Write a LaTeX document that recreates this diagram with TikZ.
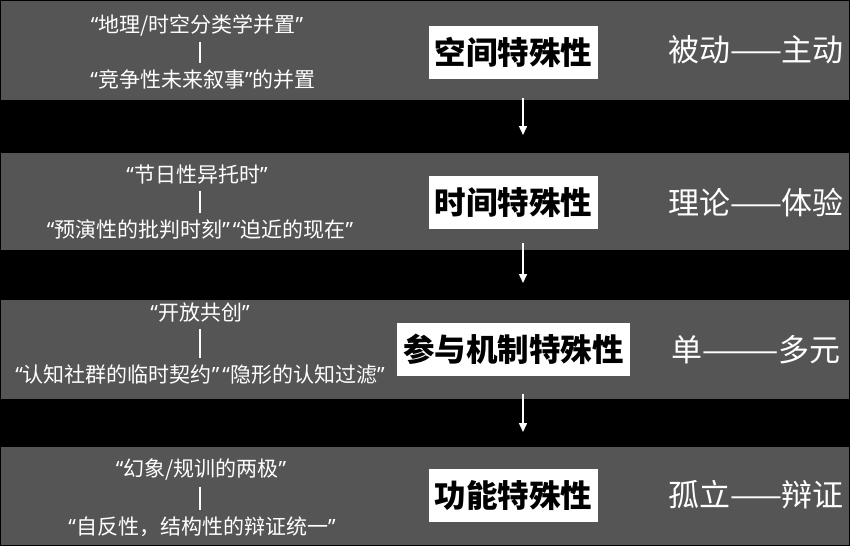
\documentclass[tikz,border=0pt]{standalone}
\usepackage{fontspec}
\newfontfamily\cjk{Noto Sans CJK SC}
\newfontfamily\latq{Noto Sans}
\newcommand\oq{{\latq “}}
\newcommand\cq{{\latq ”}}
\usetikzlibrary{arrows.meta}
\definecolor{band}{HTML}{555555}
\tikzset{
  bandrect/.style={fill=band, draw=none},
  leftline/.style={text=white, inner sep=0pt, font=\cjk\fontsize{21}{25}\selectfont},
  rightlbl/.style={text=white, inner sep=0pt, font=\cjk\fontsize{31}{36}\selectfont},
  titlebox/.style={fill=white, text=black, inner sep=0pt, minimum width=169pt, minimum height=53pt, font=\cjk\bfseries\fontsize{31.5}{37}\selectfont},
  barline/.style={draw=white, line width=1.5pt, shorten <=6pt, shorten >=7pt},
  arr/.style={draw=white, line width=1.5pt, -{Triangle[width=8pt,length=9pt]}}
}
\begin{document}
\begin{tikzpicture}[x=1pt, y=-1pt]
\useasboundingbox (0,0) rectangle (850,546);
\fill[black] (0,0) rectangle (850,546);
% bands
\path[bandrect] (1,1) rectangle (849,100);
\path[bandrect] (1,153) rectangle (849,250);
\path[bandrect] (1,300) rectangle (849,399);
\path[bandrect] (1,447) rectangle (849,545);
% band 1
\node[leftline] (l1a) at (197,25) {\oq 地理/时空分类学并置\cq};
\node[leftline] (l1b) at (203,80) {\oq 竞争性未来叙事\cq 的并置};
\draw[barline] (l1a.south -| 200,0) -- (l1b.north -| 200,0);
\node[titlebox] (b1) at (513.5,52.5) {空间特殊性};
\node[rightlbl] (r1) at (756,50) {被动——主动};
% band 2
\node[leftline] (l2a) at (197,175) {\oq 节日性异托时\cq};
\node[leftline] (l2b) at (200,230) {\oq 预演性的批判时刻\cq\hspace{3pt}\oq 迫近的现在\cq};
\draw[barline] (l2a.south -| 200,0) -- (l2b.north -| 200,0);
\node[titlebox] (b2) at (513.5,202.5) {时间特殊性};
\node[rightlbl] (r2) at (756,203) {理论——体验};
% band 3
\node[leftline] (l3a) at (200,313) {\oq 开放共创\cq};
\node[leftline] (l3b) at (200,375) {\oq 认知社群的临时契约\cq\hspace{3pt}\oq 隐形的认知过滤\cq};
\draw[barline] (l3a.south -| 200,0) -- (l3b.north -| 200,0);
\node[titlebox, minimum width=233pt] (b3) at (513.5,349.5) {参与机制特殊性};
\node[rightlbl] (r3) at (756,350) {单———多元};
% band 4
\node[leftline] (l4a) at (201,470) {\oq 幻象/规训的两极\cq};
\node[leftline] (l4b) at (202,527) {\oq 自反性，结构性的辩证统一\cq};
\draw[barline] (l4a.south -| 200,0) -- (l4b.north -| 200,0);
\node[titlebox] (b4) at (513.5,495.5) {功能特殊性};
\node[rightlbl] (r4) at (756,495) {孤立——辩证};
% arrows
\coordinate (a1s) at (523,98);  \coordinate (a1e) at (523,135);
\coordinate (a2s) at (523,243); \coordinate (a2e) at (523,283);
\coordinate (a3s) at (523,394); \coordinate (a3e) at (523,432);
\draw[arr] (a1s) -- (a1e);
\draw[arr] (a2s) -- (a2e);
\draw[arr] (a3s) -- (a3e);
\end{tikzpicture}
\end{document}
